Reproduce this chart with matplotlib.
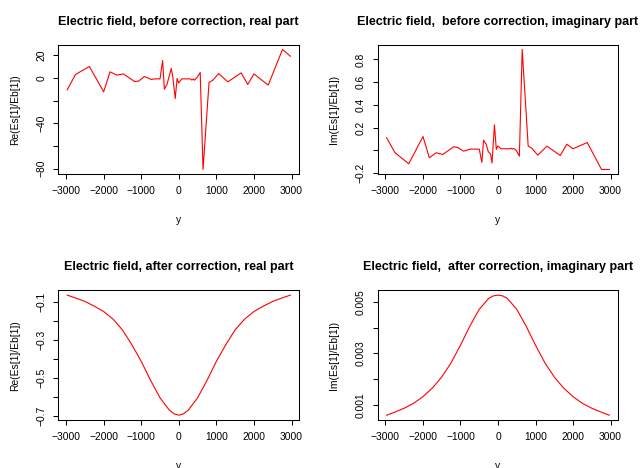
import numpy as np
import matplotlib
matplotlib.use("Agg")
import matplotlib.pyplot as plt

plt.rcParams['font.family'] = ['Liberation Sans', 'DejaVu Sans']

# before correction: sample positions and field values
y_raw = [-2970, -2750, -2380, -2000, -1830, -1650, -1475, -1180, -1070, -920,
         -735, -640, -500, -430, -385, -315, -260, -200, -160, -95,
         -45, -5, 80, 310, 350, 385, 420, 490, 570, 645,
         805, 900, 1060, 1305, 1660, 1835, 2000, 2380, 2760, 2970]
re_raw = [-10.5, 3, 10, -12.3, 5.3, 2.4, 3.5, -3.2, -2.9, 1.2,
          -1.4, -0.9, -0.9, 15.3, -10, -5.8, 0.9, 8.3, 0.9, -18.2,
          -0.5, -4.6, -0.9, -0.9, -2, -1, -2, 0.6, 4.7, -80.8,
          -4, -2.3, 3.8, -3.5, 4.4, -5.8, 3.5, -6.4, 25, 19.1]
im_raw = [0.112, -0.018, -0.117, 0.123, -0.064, -0.020, -0.035, 0.033, 0.026, -0.006,
          0.012, 0.012, 0.012, -0.105, 0.09, 0.055, -0.01, -0.03, -0.11, 0.225,
          0.01, 0.04, 0.015, 0.015, 0.02, 0.012, 0.018, 0.0, -0.05, 0.887,
          0.038, 0.020, -0.041, 0.038, -0.044, 0.055, 0.015, 0.070, -0.167, -0.167]

# after correction
y_cor = [-2970, -2750, -2500, -2250, -2000, -1750, -1500, -1250, -1000, -750,
         -500, -250, -125, 0, 125, 250, 500, 750, 1000, 1250,
         1500, 1750, 2000, 2250, 2500, 2750, 2970]
re_cor = [-0.066, -0.081, -0.099, -0.124, -0.152, -0.192, -0.248, -0.326, -0.413, -0.513,
          -0.604, -0.669, -0.688, -0.695, -0.688, -0.669, -0.604, -0.513, -0.413, -0.326,
          -0.248, -0.192, -0.152, -0.124, -0.099, -0.081, -0.066]
im_cor = [0.00061, 0.00073, 0.00088, 0.00107, 0.00133, 0.00166, 0.00209, 0.00264, 0.00332, 0.00406,
          0.00471, 0.00513, 0.00523, 0.00526, 0.00523, 0.00513, 0.00471, 0.00406, 0.00332, 0.00264,
          0.00209, 0.00166, 0.00133, 0.00107, 0.00088, 0.00073, 0.00061]

xticks = [-3000, -2000, -1000, 0, 1000, 2000, 3000]

panels = [
    (y_raw, re_raw, "Electric field, before correction, real part", "Re(Es[1]/Eb[1])",
     [-80, -60, -40, -20, 0, 20], ["-80", "", "-40", "", "0", "20"]),
    (y_raw, im_raw, "Electric field,  before correction, imaginary part", "Im(Es[1]/Eb[1])",
     [-0.2, 0.0, 0.2, 0.4, 0.6, 0.8], ["-0.2", "", "0.2", "0.4", "0.6", "0.8"]),
    (y_cor, re_cor, "Electric field, after correction, real part", "Re(Es[1]/Eb[1])",
     [-0.7, -0.6, -0.5, -0.4, -0.3, -0.2, -0.1], ["-0.7", "", "-0.5", "", "-0.3", "", "-0.1"]),
    (y_cor, im_cor, "Electric field,  after correction, imaginary part", "Im(Es[1]/Eb[1])",
     [0.001, 0.002, 0.003, 0.004, 0.005], ["0.001", "", "0.003", "", "0.005"]),
]

W, H = 642, 468
rects = [(58.3, 44.7, 241, 129.6), (377.7, 44.7, 240.6, 129.6),
         (58.3, 290.3, 241, 129.7), (377.7, 290.3, 240.6, 129.7)]

fig = plt.figure(figsize=(W / 100, H / 100), dpi=100)

for (xv, yv, title, ylab, yt, ytl), (l, t, w, h) in zip(panels, rects):
    ax = fig.add_axes([l / W, 1 - (t + h) / H, w / W, h / H])
    ax.plot(xv, yv, color='red', lw=0.8)
    ax.margins(x=0.04, y=0.04)
    ax.set_xticks(xticks)
    ax.set_xticklabels([str(v).replace('-', '\u2212') for v in xticks])
    ax.set_yticks(yt)
    ax.set_yticklabels([s.replace('-', '\u2212') for s in ytl], rotation=90, va='center')
    ax.tick_params(direction='out', length=3.6, width=0.75, labelsize=7.4, pad=5)
    for sp in ax.spines.values():
        sp.set_linewidth(0.75)
    ax.set_title(title, fontsize=9.0, fontweight='bold', pad=14.5)
    ax.set_xlabel("y", fontsize=7.4)
    ax.xaxis.set_label_coords(0.5, -0.315)
    ax.set_ylabel(ylab, fontsize=7.4)
    ax.yaxis.set_label_coords(-0.16, 0.5)

fig.savefig("out.png", dpi=100)
